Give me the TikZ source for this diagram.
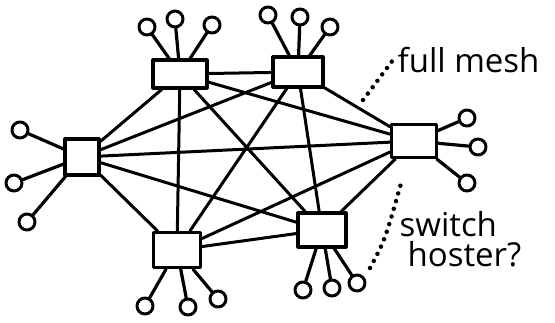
\documentclass[tikz,border=0pt]{standalone}
\usepackage{fontspec}
\setmainfont{Open Sans}
\begin{document}
\begin{tikzpicture}[x=1pt,y=-1pt,line width=3.2pt,line cap=round,line join=round,
  sw/.style={draw,rectangle,inner sep=0pt,fill=white},
  host/.style={draw,circle,minimum size=16pt,inner sep=0pt,line width=3pt},
  mesh/.style={line width=3pt},
  lead/.style={line width=4.5pt,dash pattern=on 0pt off 8pt},
  lbl/.style={font=\fontsize{33}{37}\selectfont,inner sep=0pt,align=left}]
\useasboundingbox (0,0) rectangle (555,322);
% switches
\node[sw,minimum width=54pt,minimum height=28pt] (s1) at (180,74) {};
\node[sw,minimum width=50pt,minimum height=30pt] (s2) at (298,72) {};
\node[sw,minimum width=34pt,minimum height=36pt] (s3) at (82,157) {};
\node[sw,minimum width=45pt,minimum height=33pt] (s4) at (414,141) {};
\node[sw,minimum width=47pt,minimum height=35pt] (s5) at (177,250) {};
\node[sw,minimum width=48pt,minimum height=34pt] (s6) at (322,230) {};
% hosts
\node[host] (h11) at (147,27) {};
\node[host] (h12) at (175,19) {};
\node[host] (h13) at (212,25) {};
\node[host] (h21) at (268,15) {};
\node[host] (h22) at (300,17) {};
\node[host] (h23) at (330,27) {};
\node[host] (h31) at (20,130) {};
\node[host] (h32) at (14,183) {};
\node[host] (h33) at (27,222) {};
\node[host] (h41) at (467,118) {};
\node[host] (h42) at (478,147) {};
\node[host] (h43) at (467,183) {};
\node[host] (h51) at (145,306) {};
\node[host] (h52) at (188,307) {};
\node[host] (h53) at (218,299) {};
\node[host] (h61) at (303,290) {};
\node[host] (h62) at (332,288) {};
\node[host] (h63) at (357,283) {};
\foreach \s/\h in {s1/h11,s1/h12,s1/h13,s2/h21,s2/h22,s2/h23,s3/h31,s3/h32,s3/h33,
  s4/h41,s4/h42,s4/h43,s5/h51,s5/h52,s5/h53,s6/h61,s6/h62,s6/h63}
  \draw (\s) -- (\h);
% full mesh
\foreach \a/\b in {s1/s2,s1/s3,s1/s4,s1/s5,s1/s6,s2/s3,s2/s4,s2/s5,s2/s6,
  s3/s4,s3/s5,s3/s6,s4/s5,s4/s6,s5/s6}
  \draw[mesh] (\a) -- (\b);
% labels
\node[lbl,anchor=west] (fm) at (396,60) {full mesh};
\node[lbl,anchor=north west] (sh) at (398,210) {switch\\[-7pt]\hspace*{8pt}hoster?};
\coordinate (fmA) at (363,100);
\draw[lead] (fmA) -- ([xshift=-3pt]fm.west);
\coordinate (shA) at (370,268);
\coordinate (shB) at (402,180);
\draw[lead] (shA) .. controls (385,240) .. (shB);
\end{tikzpicture}
\end{document}
